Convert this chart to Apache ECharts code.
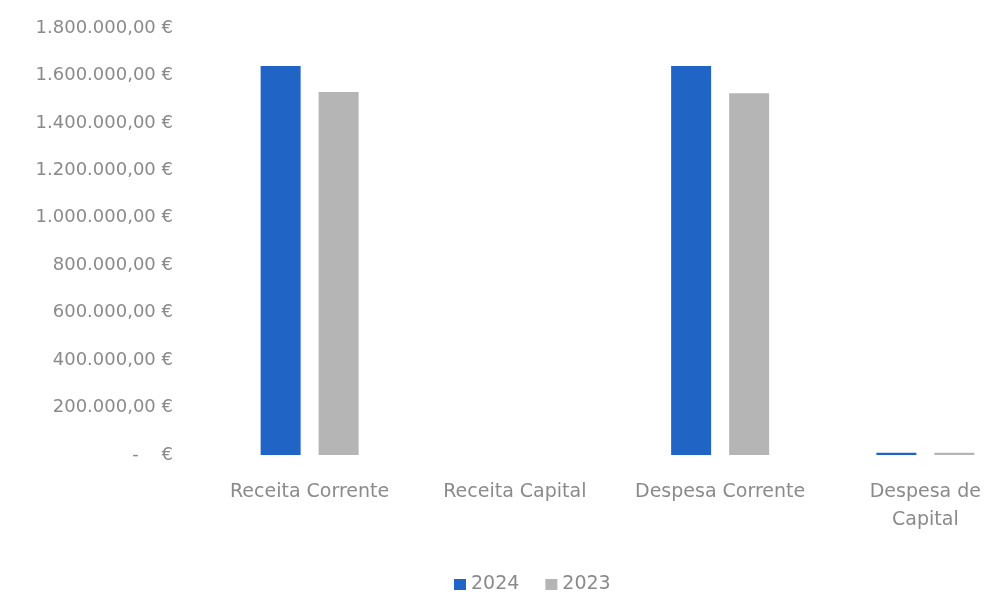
<!DOCTYPE html>
<html>
<head>
<meta charset="utf-8">
<script src="https://cdn.jsdelivr.net/npm/echarts@6/dist/echarts.min.js"></script>
<style>html,body{margin:0;padding:0;background:#fff;overflow:hidden;width:993px;height:592px;}#c{width:1028px;height:592px;}</style>
</head>
<body>
<div id="c"></div>
<script>
const categories = ['Receita Corrente', 'Receita Capital', 'Despesa Corrente', 'Despesa de Capital'];
const values2024 = [1640000, 0, 1640000, 10000];
const values2023 = [1530000, 0, 1525000, 9000];
const seriesNames = ['2024', '2023'];

function fmtEuro(v) {
  if (v === 0) return '-    €';
  const s = Math.round(v).toString().replace(/\B(?=(\d{3})+(?!\d))/g, '.');
  return s + ',00 €';
}

const chart = echarts.init(document.getElementById('c'));
chart.setOption({
  animation: false,
  textStyle: { fontFamily: 'DejaVu Sans' },
  grid: { left: 207, top: 28, bottom: 137, right: 0, containLabel: false },
  legend: {
    top: 570, left: 449,
    itemWidth: 12, itemHeight: 11, itemGap: 26, itemTextGap: 10,
    icon: 'rect',
    textStyle: { color: '#8a8a8a', fontSize: 19, fontFamily: 'DejaVu Sans' },
    data: seriesNames
  },
  xAxis: {
    type: 'category',
    data: categories,
    axisLine: { show: false },
    axisTick: { show: false },
    axisLabel: {
      color: '#8a8a8a', fontSize: 19, margin: 23, lineHeight: 28, interval: 0,
      fontFamily: 'DejaVu Sans',
      formatter: v => v === 'Despesa de Capital' ? 'Despesa de\nCapital' : v
    }
  },
  yAxis: {
    type: 'value',
    min: 0, max: 1800000, interval: 200000,
    splitLine: { show: false },
    axisLine: { show: false },
    axisTick: { show: false },
    axisLabel: { color: '#8a8a8a', fontSize: 18, margin: 34, fontFamily: 'DejaVu Sans', formatter: fmtEuro }
  },
  series: [
    { name: seriesNames[0], type: 'bar', data: values2024, barWidth: 40, barGap: '45%', itemStyle: { color: '#2064c6' } },
    { name: seriesNames[1], type: 'bar', data: values2023, barWidth: 40, itemStyle: { color: '#b5b5b5' } }
  ]
});
</script>
</body>
</html>
